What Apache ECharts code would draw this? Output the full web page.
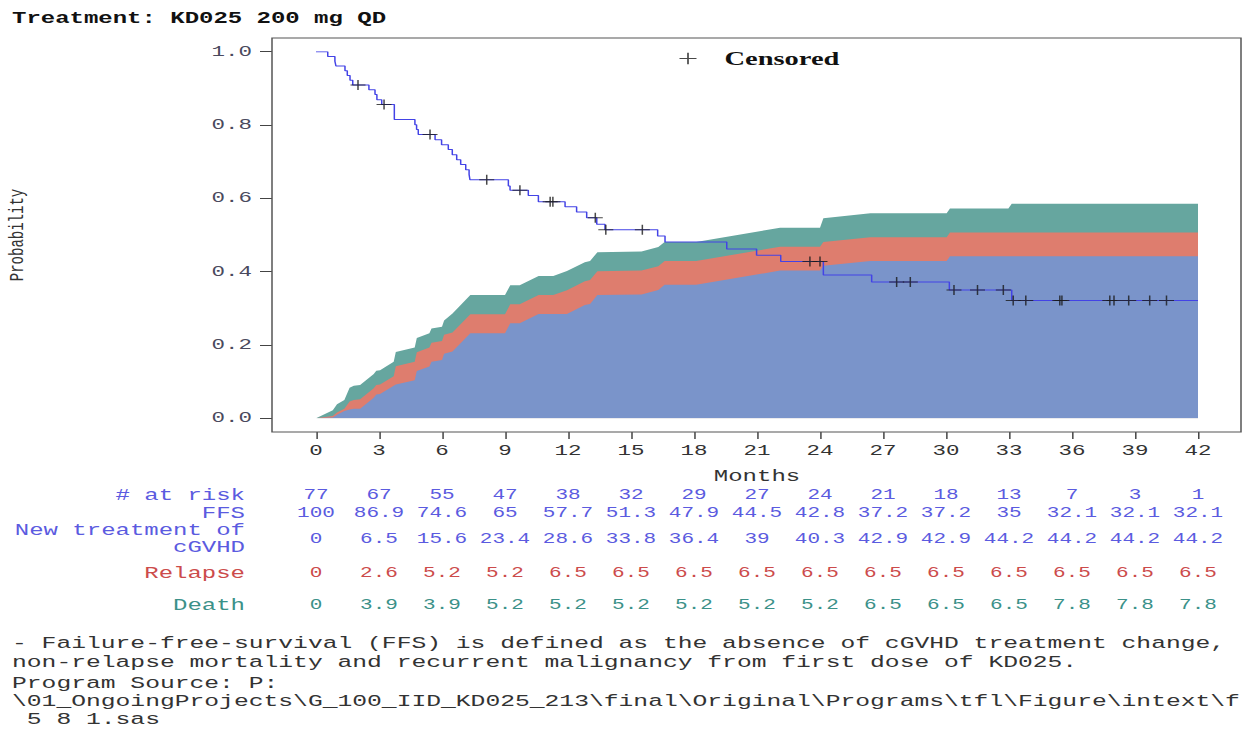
<!DOCTYPE html>
<html><head><meta charset="utf-8">
<script src="https://cdn.jsdelivr.net/npm/echarts@6/dist/echarts.min.js"></script>
<style>
html,body{margin:0;padding:0;background:#fff;overflow:hidden;width:1243px;height:730px}
#wrap{width:1243px;height:730px;overflow:hidden;position:relative;background:#fff}
#chart{position:absolute;left:0;top:0;width:829px;height:730px;transform-origin:0 0;transform:scaleX(1.49940)}
</style></head><body><div id="wrap"><div id="chart"></div></div>
<script>
// ---------------- data ----------------
const monthTicks = [0,3,6,9,12,15,18,21,24,27,30,33,36,39,42];
const atRisk     = [77,67,55,47,38,32,29,27,24,21,18,13,7,3,1];
const ffsPct     = [100,86.9,74.6,65,57.7,51.3,47.9,44.5,42.8,37.2,37.2,35,32.1,32.1,32.1];
const newTxPct   = [0,6.5,15.6,23.4,28.6,33.8,36.4,39,40.3,42.9,42.9,44.2,44.2,44.2,44.2];
const relapsePct = [0,2.6,5.2,5.2,6.5,6.5,6.5,6.5,6.5,6.5,6.5,6.5,6.5,6.5,6.5];
const deathPct   = [0,3.9,3.9,5.2,5.2,5.2,5.2,5.2,5.2,6.5,6.5,6.5,7.8,7.8,7.8];
const rowLabels  = ['# at risk', 'FFS', 'New treatment of\ncGVHD', 'Relapse', 'Death'];

// Kaplan-Meier FFS step curve (value holds from time onward)
const kmTime = [0,0.56,0.90,0.95,1.38,1.49,1.62,1.75,2.52,2.81,2.90,3.13,3.73,4.71,4.79,4.87,
  5.67,5.98,6.30,6.49,6.70,6.89,7.13,7.29,7.33,9.16,9.24,10.11,10.59,11.86,12.41,12.89,13.37,13.76,
  16.27,16.62,19.56,20.98,22.13,24.16,26.46,30.16,33.13,42];
const kmSurv = [1,0.987,0.974,0.961,0.948,0.935,0.922,0.909,0.896,0.883,0.869,0.856,0.815,0.801,0.788,0.774,
  0.760,0.746,0.733,0.719,0.705,0.692,0.678,0.665,0.651,0.634,0.622,0.608,0.591,0.577,0.563,0.547,0.529,0.514,
  0.497,0.481,0.462,0.445,0.428,0.391,0.372,0.350,0.321,0.321];
// censored observation times
const censorTime = [2.0,3.24,5.43,8.13,9.71,11.15,11.28,13.3,13.8,15.54,23.52,24.0,27.65,28.3,30.38,31.5,32.73,
  33.2,33.8,35.42,35.52,37.8,38.0,38.7,39.7,40.5];

// cumulative incidence (%) of competing events, shared time grid
const cifTime    = [0,0.8,1.0,1.35,1.6,1.8,2.1,2.75,2.87,3.05,3.7,3.8,4.7,4.8,5.4,5.5,6.0,6.1,6.5,7.35,9.0,9.25,9.7,
  10.6,11.3,11.95,12.8,13.05,13.4,15.5,16.3,16.6,18.1,22.1,24.0,24.16,26.4,30.03,30.19,32.97,33.13,42];
const cifNewTx   = [0,0.2,1.0,2.0,2.4,2.6,2.6,5.6,6.5,6.6,8.9,9.2,10.4,12.9,14.1,15.4,15.9,17.6,18.2,23.2,23.2,25.9,25.9,
  28.45,28.45,28.45,30.9,31.2,33.6,33.8,35.0,36.4,36.4,40.3,40.3,41.6,42.9,42.9,44.2,44.2,44.2,44.2];
const cifRelapse = [0,0.4,0.6,0.6,2.2,2.4,2.6,2.6,2.6,2.6,2.6,5.0,5.0,5.1,5.2,5.2,5.2,5.2,5.2,5.2,5.2,5.2,5.2,
  5.2,5.2,6.5,6.5,6.5,6.5,6.5,6.5,6.5,6.5,6.5,6.5,6.5,6.5,6.5,6.5,6.5,6.5,6.5];
const cifDeath   = [0,1.6,2.2,2.4,3.7,3.9,3.9,3.9,3.9,3.9,3.9,3.9,3.9,3.9,3.9,3.9,3.9,3.9,5.2,5.2,5.2,5.2,5.2,
  5.2,5.2,5.2,5.2,5.2,5.2,5.2,5.2,5.2,5.2,5.2,5.2,6.5,6.5,6.5,6.5,6.5,7.8,7.8];

const footLines = [
  '- Failure-free-survival (FFS) is defined as the absence of cGVHD treatment change,',
  'non-relapse mortality and recurrent malignancy from first dose of KD025.',
  'Program Source: P:',
  '\\01_OngoingProjects\\G_100_IID_KD025_213\\final\\Original\\Programs\\tfl\\Figure\\intext\\f',
  ' 5 8 1.sas'
];

// ---------------- layout ----------------
const W = 829, H = 730, SX = 1243 / W;
const px = v => v / SX;               // reference horizontal px -> chart px
const X0 = 316, X42 = 1198, Y1 = 51.7, Y0 = 418.3;
const FR = {l: 272, r: 1241, t: 38, b: 432};
const MONO = '"Liberation Mono", "DejaVu Sans Mono", monospace';
const SERIF = '"Liberation Serif", "DejaVu Serif", serif';
const BLUE_T = '#5b5be0', RED_T = '#cc4b4b', TEAL_T = '#3b9189';
const rowColors = [BLUE_T, BLUE_T, BLUE_T, RED_T, TEAL_T];
const rowY = [495.5, 513.5, 539, 573.5, 605.5];
const footY = [644, 663, 684, 702, 720];
const plusPath = 'path://M0,4.5H10V5.5H0Z M4.5,0H5.5V10H4.5Z';

function survAt(t) {
  let s = kmSurv[0];
  for (let i = 0; i < kmTime.length; i++) { if (kmTime[i] <= t) s = kmSurv[i]; }
  return s;
}

const cum1 = cifTime.map((t, i) => [t, cifNewTx[i] / 100]);
const cum2 = cifTime.map((t, i) => [t, (cifNewTx[i] + cifRelapse[i]) / 100]);
const cum3 = cifTime.map((t, i) => [t, (cifNewTx[i] + cifRelapse[i] + cifDeath[i]) / 100]);

function rowAxis(vals, color, y) {
  return {
    type: 'value', gridIndex: 0, position: 'bottom', min: 0, max: 42, interval: 3,
    offset: y - Y0,
    axisLine: {show: false}, axisTick: {show: false}, splitLine: {show: false},
    axisLabel: {margin: 0, verticalAlign: 'middle', color: color, fontFamily: MONO, fontSize: 14,
      formatter: v => String(vals[Math.round(v / 3)])}
  };
}

const chart = echarts.init(document.getElementById('chart'), null, {renderer: 'svg', width: W, height: H});
const area = (data, color, z) => ({
  type: 'line', data: data, showSymbol: false, symbol: 'none', silent: true, z: z,
  xAxisIndex: 0, yAxisIndex: 0,
  lineStyle: {width: 0, opacity: 0}, itemStyle: {color: color},
  areaStyle: {color: color, opacity: 1}
});

const rowVals = [atRisk, ffsPct, newTxPct, relapsePct, deathPct];

chart.setOption({
  animation: false,
  backgroundColor: '#fff',
  grid: [
    {left: px(X0), right: W - px(X42), top: Y1, bottom: H - Y0, containLabel: false, outerBoundsMode: 'none'},
    {left: px(FR.l), right: W - px(X42), top: Y1, bottom: H - Y0, containLabel: false, outerBoundsMode: 'none'}
  ],
  legend: {
    left: px(672), top: 44, itemWidth: px(17), itemHeight: 16, icon: plusPath,
    textStyle: {fontFamily: SERIF, fontSize: 19, fontWeight: 'bold', color: '#111', padding: [0, 0, 0, px(28) - 5]},
    data: ['Censored']
  },
  xAxis: [
    {
      type: 'value', gridIndex: 0, min: 0, max: 42, interval: 3, offset: FR.b - Y0,
      axisLine: {show: false, onZero: false},
      axisTick: {show: true, length: 7, lineStyle: {color: '#444'}},
      axisLabel: {margin: 12, fontFamily: MONO, fontSize: 15, color: '#333'},
      splitLine: {show: false},
      name: 'Months', nameLocation: 'middle', nameGap: 37,
      nameTextStyle: {fontFamily: MONO, fontSize: 16, color: '#333'}
    }
  ].concat(rowVals.map((v, i) => rowAxis(v, rowColors[i], rowY[i])))
   .concat([{type: 'value', gridIndex: 1, show: false, min: 0, max: 1}]),
  yAxis: [
    {
      type: 'value', gridIndex: 0, min: 0, max: 1, interval: 0.2,
      axisLine: {show: false}, axisTick: {show: false}, axisLabel: {show: false}, splitLine: {show: false}
    },
    {
      type: 'value', gridIndex: 1, min: 0, max: 1, interval: 0.2,
      axisLine: {show: false, onZero: false},
      axisTick: {show: true, length: px(12), lineStyle: {color: '#444'}},
      axisLabel: {margin: px(20), fontFamily: MONO, fontSize: 15, color: '#4a4a5e', formatter: v => v.toFixed(1)},
      splitLine: {show: false},
      name: 'Probability', nameLocation: 'middle', nameGap: px(FR.l - 28),
      nameTextStyle: {fontFamily: MONO, fontSize: 14, color: '#333'}
    }
  ],
  graphic: [
    {type: 'rect', silent: true, z: 10,
     shape: {x: px(FR.l), y: FR.t, width: px(FR.r - FR.l), height: FR.b - FR.t},
     style: {fill: 'none', stroke: '#555', lineWidth: 1}},
    {type: 'text', left: px(12), top: 11,
     style: {text: 'Treatment: KD025 200 mg QD', font: 'bold 16px ' + MONO, fill: '#111'}}
  ].concat(rowLabels.map((s, i) => ({
    type: 'text', x: px(245), y: rowY[i],
    style: {text: s, font: '16px ' + MONO, fill: rowColors[i], align: 'right', verticalAlign: 'middle', lineHeight: 17}
  }))).concat(footLines.map((s, i) => ({
    type: 'text', x: px(12), y: footY[i],
    style: {text: s, font: '16.45px ' + MONO, fill: '#333', verticalAlign: 'middle', align: 'left', lineHeight: 17}
  }))),
  series: [
    area(cum3, '#66a69f', 1),
    area(cum2, '#de7d6e', 2),
    area(cum1, '#7a94ca', 3),
    {type: 'line', step: 'end', showSymbol: false, symbol: 'none', z: 4,
     data: kmTime.map((t, i) => [t, kmSurv[i]]),
     lineStyle: {color: '#4343e6', width: 1}, itemStyle: {color: '#4343e6'}},
    {type: 'scatter', name: 'Censored', symbol: plusPath, symbolSize: [10, 10], z: 5,
     itemStyle: {color: '#1a1a1a'},
     data: censorTime.map(t => [t, survAt(t)])}
  ]
});
</script></body></html>
